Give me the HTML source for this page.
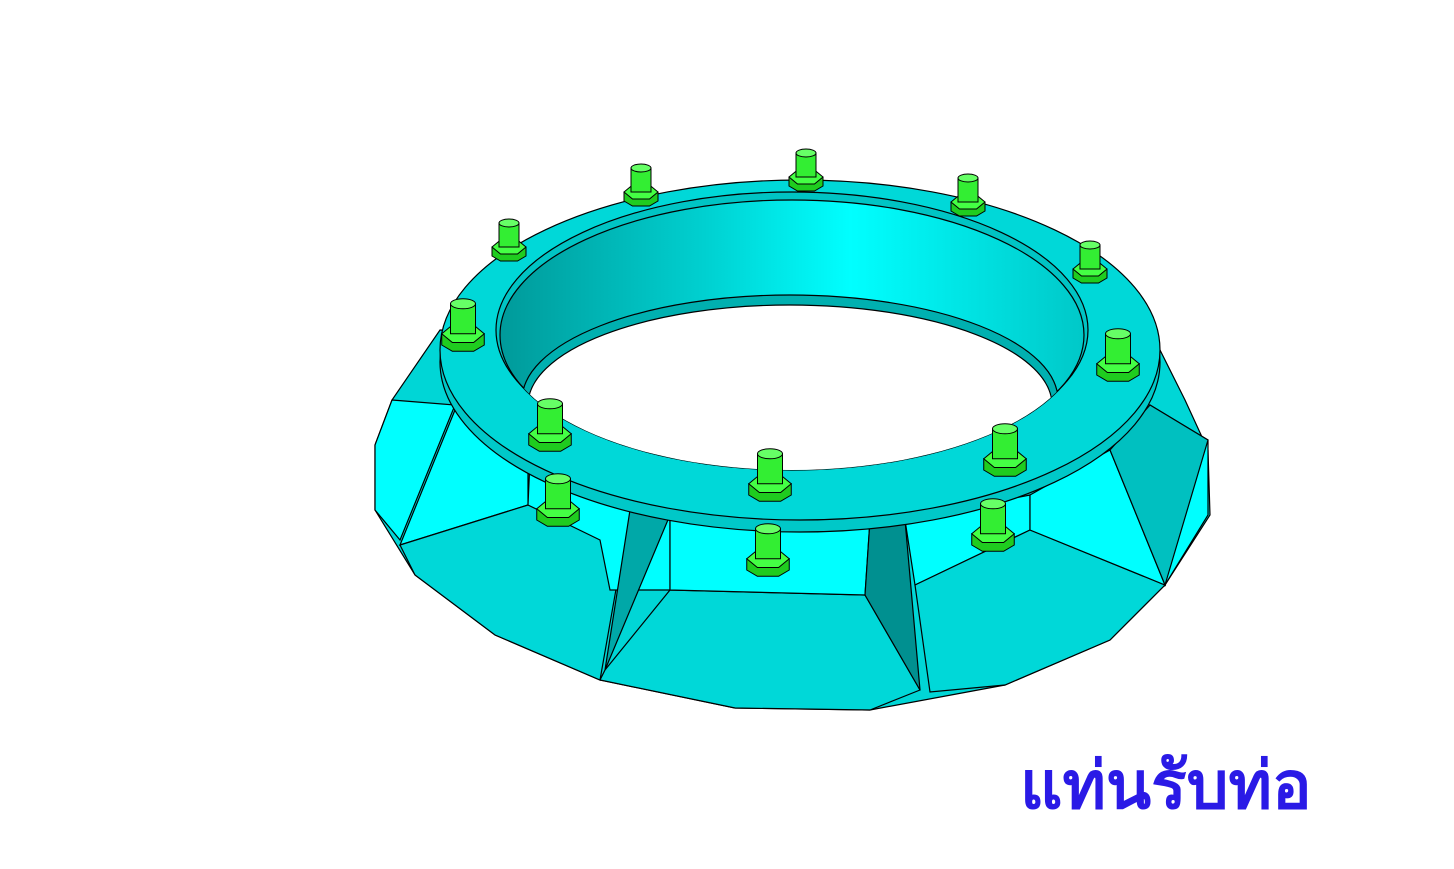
<!DOCTYPE html>
<html><head><meta charset="utf-8"><style>
html,body{margin:0;padding:0;background:#fff;width:1454px;height:869px;overflow:hidden}
svg{display:block}
</style></head><body>
<svg width="1454" height="869" viewBox="0 0 1454 869">
<defs>
<linearGradient id="wall" x1="0" x2="1" y1="0" y2="0">
<stop offset="0" stop-color="#009a9a"/><stop offset="0.35" stop-color="#00d0d0"/><stop offset="0.6" stop-color="#00ffff"/><stop offset="1" stop-color="#00c8c8"/>
</linearGradient>
<clipPath id="hole"><ellipse cx="792" cy="335" rx="292" ry="135"/></clipPath>
</defs>
<g stroke="#000" stroke-width="1.2">
<polygon fill="#00d6d6" points="375,445 392,400 440,330 1155,340 1185,400 1208,450 1210,515 1165,585 1110,640 1005,685 870,710 735,708 600,680 495,635 415,575 375,510"/>
<polygon fill="#00ffff" points="392,400 455,405 400,540 375,510 375,445"/>
<polygon fill="#00ffff" points="1150,405 1208,440 1208,515 1165,585"/>
<polygon fill="#00ffff" points="528,470 528,505 400,545 455,410"/>
<polygon fill="#00d8d8" points="400,545 528,505 630,510 600,680 495,635 415,575"/>
<polygon fill="#00ffff" points="530,460 630,510 670,510 670,590 610,590 600,540 528,505"/>
<polygon fill="#00a8a8" points="630,510 670,515 605,670"/>
<polygon fill="#00d8d8" points="605,670 670,590 865,595 920,690 870,710 735,708 600,680"/>
<polygon fill="#00ffff" points="670,515 870,520 865,595 670,590"/>
<polygon fill="#009090" points="870,520 905,520 920,690 865,595"/>
<polygon fill="#00ffff" points="905,520 1030,495 1030,530 915,585"/>
<polygon fill="#00d8d8" points="915,585 1030,530 1165,585 1110,640 1005,685 930,692"/>
<polygon fill="#00ffff" points="1030,495 1110,450 1165,585 1030,530"/>
<polygon fill="#00c0c0" points="1110,450 1150,405 1208,440 1165,585"/>
</g>
<g stroke="#000" stroke-width="1.2">
<ellipse cx="800" cy="362" rx="360" ry="170" fill="#00c8c8"/>
<ellipse cx="800" cy="350" rx="360" ry="170" fill="#00d8d8"/>
<ellipse cx="792" cy="330" rx="296" ry="138" fill="#00c4c4"/>
<ellipse cx="792" cy="335" rx="292" ry="135" fill="url(#wall)"/>
<g clip-path="url(#hole)">
<ellipse cx="790" cy="400" rx="268" ry="105" fill="#00b0b0"/>
<ellipse cx="790" cy="405" rx="262" ry="100" fill="#fff"/>
</g>
</g>
<g id="bolts"></g>
<text x="1020" y="808" font-family="'Liberation Sans','DejaVu Sans',sans-serif" font-size="66" font-weight="bold" fill="#2a1ae6">แท่นรับท่อ</text>
</svg>
<script>
const boltPos=[[509,240],[641,185],[806,170],[968,195],[1090,262],[1118,355],[1005,450],[770,475],[550,425],[463,325],[558,500],[768,550],[993,525]];
const g=document.getElementById('bolts');const ns='http://www.w3.org/2000/svg';
boltPos.forEach((p,i)=>{
 const s=p[1]>300?1.25:1;const x=p[0],y=p[1];
 const b=document.createElementNS(ns,'g');
 
 
 b.setAttribute('stroke','#000');b.setAttribute('stroke-width','1');
 const w=17*s,h=7*s,ch=24*s,r=10*s;
 b.innerHTML=`<polygon fill="#1fcc1f" points="${x-w},${y+h} ${x-w},${y+h+9*s} ${x-w/2},${y+h+14*s} ${x+w/2},${y+h+14*s} ${x+w},${y+h+9*s} ${x+w},${y+h}"/>
<polygon fill="#44ff44" points="${x-w},${y+h} ${x-w/2},${y} ${x+w/2},${y} ${x+w},${y+h} ${x+w/2},${y+2*h} ${x-w/2},${y+2*h}"/>
<rect x="${x-r}" y="${y-ch+h}" width="${2*r}" height="${ch}" fill="#33ee33"/>
<ellipse cx="${x}" cy="${y-ch+h}" rx="${r}" ry="${4*s}" fill="#66ff66"/>`;
 g.appendChild(b);
});
</script>
</body></html>
